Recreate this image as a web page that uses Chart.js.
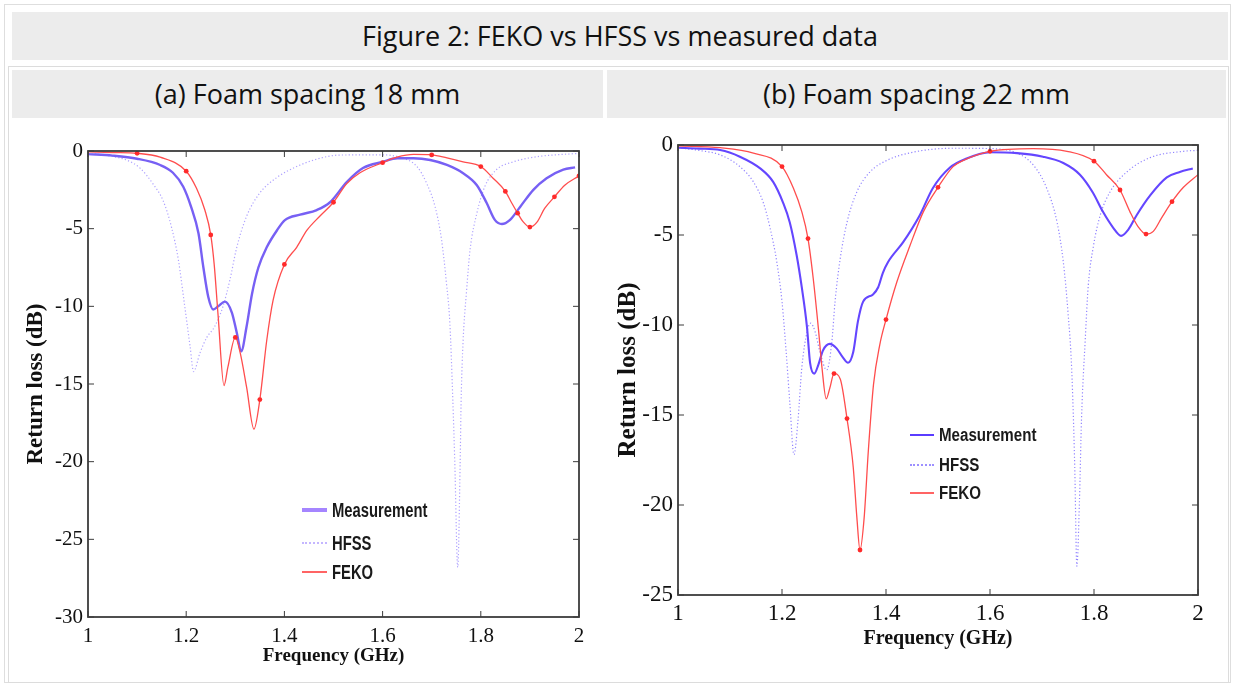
<!DOCTYPE html>
<html>
<head>
<meta charset="utf-8">
<script src="https://cdn.jsdelivr.net/npm/chart.js@4"></script>
<style>
  body { margin: 0; background: #fff; width: 1235px; height: 685px; position: relative; overflow: hidden; font-family: 'Open Sans', sans-serif; }
  .box { position: absolute; box-sizing: border-box; }
  .band { position: absolute; background: #ececec; color: #111; text-align: center; }
  .lg { position: absolute; height: 0; }
  .lg .sw { position: absolute; top: 0; }
  .lg .tx { position: absolute; font-family: 'Liberation Sans', Arial, sans-serif; font-weight: bold; color: #1a1a1a; white-space: nowrap; transform-origin: left center; line-height: 1; }
  canvas { position: absolute; }
</style>
</head>
<body>
<div class="box" style="left:4px;top:4px;width:1227px;height:679px;border:1px solid #dedede;"></div>
<div class="band" style="left:12px;top:12px;width:1216px;height:48px;line-height:48px;font-size:27px;">Figure 2: FEKO vs HFSS vs measured data</div>
<div class="box" style="left:8px;top:66px;width:1221px;height:617px;border:1px solid #dcdcdc;"></div>
<div class="band" style="left:12px;top:70px;width:591px;height:48px;line-height:48px;font-size:27px;">(a) Foam spacing 18 mm</div>
<div class="band" style="left:607px;top:70px;width:619px;height:48px;line-height:48px;font-size:27px;">(b) Foam spacing 22 mm</div>

<canvas id="chartA" width="593" height="560" style="left:10px;top:120px;"></canvas>
<canvas id="chartB" width="619" height="560" style="left:607px;top:120px;"></canvas>

<div id="legendA"></div>
<div id="legendB"></div>

<script>
// ---- data ----
const freqTicks = [1, 1.2, 1.4, 1.6, 1.8, 2];
const lossTicksA = [0, -5, -10, -15, -20, -25, -30];
const lossTicksB = [0, -5, -10, -15, -20, -25];
const seriesNames = ['Measurement', 'HFSS', 'FEKO'];

// (a) foam spacing 18 mm
const measA_f = [1.0, 1.05, 1.1, 1.147, 1.173, 1.194, 1.21, 1.225, 1.235, 1.245, 1.255, 1.265, 1.279, 1.293, 1.303, 1.312, 1.323, 1.334, 1.347, 1.364, 1.385, 1.401, 1.432, 1.466, 1.493, 1.527, 1.56, 1.6, 1.63, 1.663, 1.697, 1.731, 1.764, 1.792, 1.812, 1.829, 1.843, 1.859, 1.88, 1.907, 1.934, 1.968, 1.992];
const measA_db = [-0.2, -0.3, -0.5, -0.9, -1.4, -2.3, -3.6, -5.3, -7.5, -9.4, -10.2, -10.0, -9.7, -10.4, -11.7, -12.9, -11.3, -9.2, -7.5, -6.2, -5.1, -4.45, -4.1, -3.8, -3.3, -2.0, -1.1, -0.7, -0.47, -0.47, -0.58, -0.9, -1.43, -2.2, -3.35, -4.45, -4.7, -4.45, -3.6, -2.5, -1.75, -1.2, -1.05];

const hfssA_f = [1.0, 1.05, 1.08, 1.106, 1.132, 1.153, 1.17, 1.184, 1.197, 1.208, 1.215, 1.228, 1.242, 1.258, 1.275, 1.289, 1.303, 1.323, 1.35, 1.385, 1.425, 1.472, 1.513, 1.6, 1.642, 1.67, 1.69, 1.707, 1.72, 1.73, 1.737, 1.743, 1.747, 1.753, 1.758, 1.76, 1.764, 1.771, 1.778, 1.792, 1.808, 1.832, 1.866, 1.914, 2.0];
const hfssA_db = [-0.15, -0.35, -0.6, -1.1, -2.1, -3.2, -4.9, -7.0, -10.0, -12.6, -14.2, -13.0, -12.0, -11.3, -10.0, -8.3, -6.2, -4.2, -2.7, -1.7, -1.0, -0.47, -0.26, -0.25, -0.47, -1.0, -2.1, -3.6, -5.7, -8.5, -11.1, -16.0, -20.0, -26.8, -20.0, -16.0, -12.2, -9.0, -6.4, -4.0, -2.3, -1.2, -0.7, -0.37, -0.15];

const fekoA_f = [1.0, 1.05, 1.1, 1.147, 1.2, 1.221, 1.238, 1.25, 1.257, 1.265, 1.277, 1.285, 1.3, 1.31, 1.323, 1.338, 1.35, 1.364, 1.377, 1.4, 1.425, 1.446, 1.472, 1.5, 1.527, 1.554, 1.6, 1.629, 1.663, 1.7, 1.731, 1.764, 1.8, 1.825, 1.85, 1.863, 1.875, 1.886, 1.9, 1.914, 1.93, 1.95, 1.971, 2.0];
const fekoA_db = [-0.05, -0.1, -0.15, -0.4, -1.3, -2.4, -3.8, -5.4, -7.3, -10.6, -15.1, -13.9, -12.0, -13.0, -15.2, -17.9, -16.0, -12.2, -9.6, -7.3, -6.2, -5.1, -4.2, -3.3, -2.1, -1.4, -0.75, -0.4, -0.22, -0.25, -0.45, -0.7, -1.0, -1.75, -2.6, -3.35, -4.0, -4.55, -4.9, -4.6, -3.7, -2.95, -2.2, -1.6];
const fekoA_mark_f = [1.1, 1.2, 1.25, 1.3, 1.35, 1.4, 1.5, 1.6, 1.7, 1.8, 1.85, 1.875, 1.9, 1.95, 2.0];
const fekoA_mark_db = [-0.15, -1.3, -5.4, -12.0, -16.0, -7.3, -3.3, -0.75, -0.25, -1.0, -2.6, -4.0, -4.9, -2.95, -1.6];

// (b) foam spacing 22 mm
const measB_f = [1.0, 1.04, 1.081, 1.119, 1.158, 1.183, 1.202, 1.215, 1.228, 1.238, 1.248, 1.254, 1.262, 1.27, 1.279, 1.292, 1.305, 1.317, 1.327, 1.337, 1.346, 1.356, 1.375, 1.385, 1.394, 1.404, 1.433, 1.465, 1.49, 1.523, 1.555, 1.6, 1.652, 1.702, 1.741, 1.773, 1.798, 1.817, 1.837, 1.852, 1.866, 1.882, 1.908, 1.94, 1.965, 1.99];
const measB_db = [-0.15, -0.2, -0.28, -0.65, -1.3, -2.05, -3.2, -4.3, -6.1, -7.9, -10.1, -12.1, -12.7, -12.2, -11.4, -11.05, -11.3, -11.8, -12.1, -11.5, -9.8, -8.7, -8.3, -7.9, -7.1, -6.5, -5.4, -3.9, -2.4, -1.25, -0.75, -0.4, -0.45, -0.65, -1.0, -1.65, -2.65, -3.7, -4.6, -5.05, -4.7, -3.9, -2.8, -1.8, -1.5, -1.3];

const hfssB_f = [1.0, 1.04, 1.081, 1.119, 1.145, 1.164, 1.177, 1.19, 1.2, 1.208, 1.215, 1.223, 1.231, 1.238, 1.248, 1.255, 1.264, 1.273, 1.286, 1.296, 1.302, 1.312, 1.325, 1.344, 1.369, 1.402, 1.452, 1.529, 1.6, 1.652, 1.683, 1.709, 1.729, 1.741, 1.75, 1.757, 1.763, 1.767, 1.772, 1.776, 1.783, 1.789, 1.799, 1.812, 1.831, 1.863, 1.908, 1.972, 2.0];
const hfssB_db = [-0.15, -0.3, -0.55, -1.2, -2.05, -3.2, -4.6, -6.5, -8.7, -11.5, -14.3, -17.2, -15.2, -12.4, -10.4, -9.9, -10.4, -11.5, -12.5, -10.9, -8.7, -6.3, -4.3, -2.6, -1.5, -0.85, -0.4, -0.18, -0.2, -0.45, -1.1, -2.4, -4.3, -6.5, -9.3, -12.4, -17.9, -23.4, -19.8, -15.2, -10.9, -7.8, -5.6, -3.9, -2.6, -1.5, -0.7, -0.35, -0.3];

const fekoB_f = [1.0, 1.081, 1.145, 1.2, 1.222, 1.238, 1.25, 1.26, 1.27, 1.277, 1.285, 1.292, 1.3, 1.312, 1.325, 1.337, 1.344, 1.35, 1.358, 1.366, 1.376, 1.388, 1.4, 1.421, 1.446, 1.472, 1.5, 1.529, 1.549, 1.6, 1.683, 1.748, 1.8, 1.824, 1.85, 1.869, 1.885, 1.9, 1.914, 1.93, 1.95, 1.972, 2.0];
const fekoB_db = [-0.05, -0.15, -0.45, -1.2, -2.4, -3.7, -5.2, -7.4, -10.2, -12.4, -14.1, -13.5, -12.7, -13.0, -15.2, -17.9, -20.7, -22.5, -20.7, -17.0, -13.3, -11.1, -9.7, -7.6, -5.6, -3.7, -2.35, -1.2, -0.85, -0.35, -0.2, -0.35, -0.9, -1.65, -2.5, -3.7, -4.55, -4.95, -4.8, -4.05, -3.15, -2.35, -1.65];
const fekoB_mark_f = [1.2, 1.25, 1.3, 1.325, 1.35, 1.4, 1.5, 1.6, 1.8, 1.85, 1.9, 1.95];
const fekoB_mark_db = [-1.2, -5.2, -12.7, -15.2, -22.5, -9.7, -2.35, -0.35, -0.9, -2.5, -4.95, -3.15];

// ---- helpers ----
function pairs(xs, ys) {
    return xs.map((x, i) => ({ x: x, y: ys[i] }));
}

// box around the plot with small inward ticks on all four sides
const framePlugin = {
    id: 'frame',
    afterDatasetsDraw(chart) {
        const { ctx, chartArea: a, scales: { x, y } } = chart;
        ctx.save();
        ctx.strokeStyle = '#3c3c3c';
        ctx.lineWidth = 1.8;
        ctx.strokeRect(a.left, a.top, a.right - a.left, a.bottom - a.top);
        ctx.lineWidth = 1;
        ctx.beginPath();
        x.ticks.forEach(t => {
            const px = x.getPixelForValue(t.value);
            ctx.moveTo(px, a.bottom); ctx.lineTo(px, a.bottom - 6);
            ctx.moveTo(px, a.top); ctx.lineTo(px, a.top + 6);
        });
        y.ticks.forEach(t => {
            const py = y.getPixelForValue(t.value);
            ctx.moveTo(a.left, py); ctx.lineTo(a.left + 6, py);
            ctx.moveTo(a.right, py); ctx.lineTo(a.right - 6, py);
        });
        ctx.stroke();
        ctx.restore();
    }
};

function buildChart(id, d, o) {
    const serif = 'Liberation Serif, Times New Roman, serif';
    return new Chart(document.getElementById(id), {
        type: 'line',
        data: {
            datasets: [
                { label: 'FEKO markers', data: pairs(d.markF, d.markDb), showLine: false, pointRadius: 2.4,
                  pointBackgroundColor: '#ff2a2a', pointBorderWidth: 0 },
                { label: seriesNames[2], data: pairs(d.fekoF, d.fekoDb), borderColor: '#ff4d4d', borderWidth: 1.3,
                  pointRadius: 0, cubicInterpolationMode: 'monotone' },
                { label: seriesNames[0], data: pairs(d.measF, d.measDb), borderColor: o.measColor, borderWidth: o.measWidth,
                  pointRadius: 0, cubicInterpolationMode: 'monotone' },
                { label: seriesNames[1], data: pairs(d.hfssF, d.hfssDb), borderColor: o.hfssColor, borderWidth: 1.2,
                  borderDash: [1.2, 2.2], pointRadius: 0, cubicInterpolationMode: 'monotone' }
            ]
        },
        options: {
            responsive: false,
            animation: false,
            layout: { padding: { top: o.padTop, right: o.padRight, left: 0, bottom: 0 } },
            plugins: { legend: { display: false }, tooltip: { enabled: false } },
            scales: {
                x: {
                    type: 'linear', min: 1, max: 2,
                    afterBuildTicks: s => { s.ticks = freqTicks.map(v => ({ value: v })); },
                    afterFit: s => { s.height = o.xH; },
                    grid: { display: false, drawTicks: false },
                    border: { display: false },
                    ticks: { padding: o.xPad, color: '#111', font: { family: serif, size: o.tickSize }, callback: v => String(v) },
                    title: { display: true, text: 'Frequency (GHz)', color: '#111',
                             font: { family: serif, size: o.xTitleSize, weight: 'bold' }, padding: { top: 0, bottom: o.xTitlePad } }
                },
                y: {
                    type: 'linear', min: d.yTicks[d.yTicks.length - 1], max: 0,
                    afterBuildTicks: s => { s.ticks = d.yTicks.map(v => ({ value: v })); },
                    afterFit: s => { s.width = o.yW; },
                    grid: { display: false, drawTicks: false },
                    border: { display: false },
                    ticks: { padding: 5, color: '#111', font: { family: serif, size: o.tickSize }, callback: v => String(v) },
                    title: { display: true, text: 'Return loss (dB)', color: '#111',
                             font: { family: serif, size: o.yTitleSize, weight: 'bold' }, padding: { top: o.yTitlePad, bottom: 0 } }
                }
            }
        },
        plugins: [framePlugin]
    });
}

function buildLegend(id, o) {
    const host = document.getElementById(id);
    const styles = [
        { color: o.measSwatch, width: o.measSwatchW, dash: 'solid' },
        { color: o.hfssSwatch, width: 2, dash: 'dotted' },
        { color: '#ff6464', width: 2, dash: 'solid' }
    ];
    seriesNames.forEach((name, i) => {
        const row = document.createElement('div');
        row.className = 'lg';
        row.style.left = o.left + 'px';
        row.style.top = o.rows[i] + 'px';
        const sw = document.createElement('div');
        sw.className = 'sw';
        sw.style.cssText = `left:0;width:${o.swW}px;margin-top:${-styles[i].width / 2}px;border-top:${styles[i].width}px ${styles[i].dash} ${styles[i].color};`;
        const tx = document.createElement('div');
        tx.className = 'tx';
        tx.textContent = name;
        tx.style.left = o.textOff + 'px';
        tx.style.fontSize = o.size + 'px';
        tx.style.top = (-o.size / 2) + 'px';
        tx.style.transform = `scaleX(${o.squeeze})`;
        row.appendChild(sw);
        row.appendChild(tx);
        host.appendChild(row);
    });
}

buildChart('chartA',
    { measF: measA_f, measDb: measA_db, hfssF: hfssA_f, hfssDb: hfssA_db, fekoF: fekoA_f, fekoDb: fekoA_db,
      markF: fekoA_mark_f, markDb: fekoA_mark_db, yTicks: lossTicksA },
    { padTop: 31, padRight: 24, xH: 63, yW: 78, xPad: 7, tickSize: 21, xTitleSize: 19, xTitlePad: 13,
      yTitleSize: 23, yTitlePad: 12, measColor: '#7760f4', measWidth: 2.4, hfssColor: '#aea2ff' });

buildChart('chartB',
    { measF: measB_f, measDb: measB_db, hfssF: hfssB_f, hfssDb: hfssB_db, fekoF: fekoB_f, fekoDb: fekoB_db,
      markF: fekoB_mark_f, markDb: fekoB_mark_db, yTicks: lossTicksB },
    { padTop: 25, padRight: 28, xH: 85, yW: 71, xPad: 5, tickSize: 23, xTitleSize: 20, xTitlePad: 29,
      yTitleSize: 25, yTitlePad: 7, measColor: '#6446ff', measWidth: 2.1, hfssColor: '#9184ff' });

buildLegend('legendA', { left: 302, rows: [510, 543, 572], swW: 25, textOff: 30, size: 20, squeeze: 0.74,
    measSwatch: '#a585ff', measSwatchW: 4, hfssSwatch: '#c4b6ff' });
buildLegend('legendB', { left: 910, rows: [435, 465, 493], swW: 24, textOff: 29, size: 18, squeeze: 0.84,
    measSwatch: '#5a3cff', measSwatchW: 2, hfssSwatch: '#9d90ff' });
</script>
</body>
</html>
